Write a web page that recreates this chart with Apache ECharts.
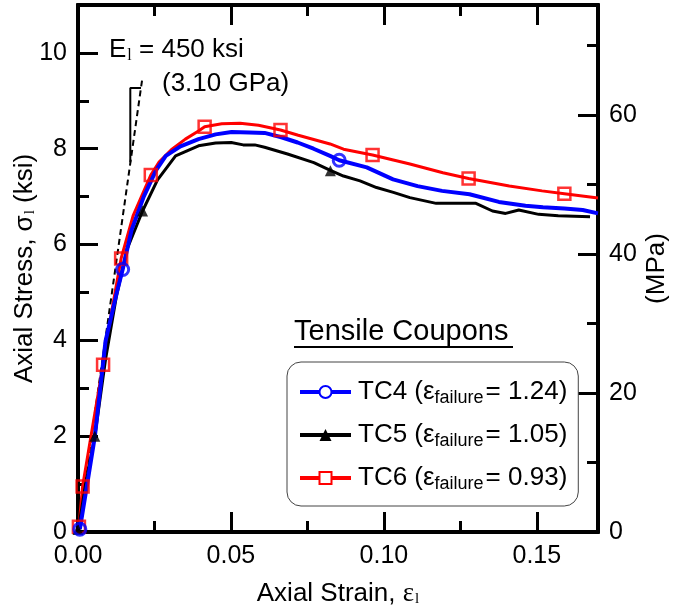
<!DOCTYPE html>
<html>
<head>
<meta charset="utf-8">
<script src="https://cdn.jsdelivr.net/npm/echarts@6/dist/echarts.min.js"></script>
<style>
html,body{margin:0;padding:0;background:#fff;}
#chart{width:678px;height:613px;}
</style>
</head>
<body>
<div id="chart"></div>
<script>
// ---- data (strain, stress ksi) ----
const tc4Curve = [[0.0006,0.06],[0.0030,1.0],[0.0055,1.99],[0.009,3.98],[0.0125,4.95],[0.0146,5.48],[0.0175,6.3],[0.0215,7.0],[0.0255,7.55],[0.0287,7.85],[0.0335,8.05],[0.0394,8.2],[0.045,8.3],[0.0502,8.35],[0.056,8.34],[0.061,8.33],[0.0665,8.24],[0.0718,8.13],[0.077,8.0],[0.0824,7.85],[0.0854,7.76],[0.0944,7.61],[0.103,7.36],[0.111,7.22],[0.119,7.12],[0.128,7.05],[0.1376,6.89],[0.1463,6.81],[0.152,6.78],[0.159,6.75],[0.165,6.72],[0.17,6.65]];
const tc4Markers = [[0.0006,0.06],[0.0146,5.48],[0.0854,7.76]];

const tc5Curve = [[0,0],[0.0025,1.0],[0.0055,2.0],[0.009,3.6],[0.0125,4.9],[0.016,5.9],[0.0211,6.7],[0.026,7.35],[0.0319,7.85],[0.0394,8.06],[0.045,8.12],[0.0501,8.13],[0.054,8.08],[0.0578,8.08],[0.061,8.03],[0.0685,7.89],[0.0771,7.71],[0.0825,7.55],[0.0868,7.43],[0.0922,7.33],[0.0976,7.19],[0.1031,7.09],[0.1085,6.98],[0.1171,6.86],[0.1301,6.86],[0.1355,6.70],[0.1398,6.65],[0.1441,6.72],[0.1506,6.63],[0.157,6.6],[0.1674,6.58]];
const tc5Markers = [[0.0,0.05],[0.0055,2.0],[0.0211,6.7],[0.0825,7.54]];

const tc6Curve = [[0,0],[0.0003,0.11],[0.0015,0.95],[0.0045,2.1],[0.0082,3.49],[0.011,4.6],[0.0141,5.71],[0.018,6.6],[0.0238,7.45],[0.0265,7.72],[0.0305,7.98],[0.0351,8.2],[0.0394,8.37],[0.0414,8.46],[0.047,8.52],[0.053,8.53],[0.059,8.49],[0.0662,8.39],[0.072,8.28],[0.0824,8.1],[0.0868,7.99],[0.0963,7.87],[0.1085,7.68],[0.1193,7.5],[0.1277,7.38],[0.141,7.22],[0.1517,7.12],[0.159,7.06],[0.17,6.97]];
const tc6Markers = [[0.0003,0.11],[0.0015,0.95],[0.0082,3.49],[0.0141,5.71],[0.0238,7.45],[0.0414,8.46],[0.0662,8.39],[0.0963,7.87],[0.1277,7.38],[0.159,7.06]];

const modulusLine = [[0,0],[0.0211,9.5]];
const slopeTriangle = [[0.0171,7.72],[0.0171,9.27],[0.0206,9.27]];

const seriesNames = ['TC4','TC5','TC6'];
const failureStrains = ['1.24','1.05','0.93'];
const xTicks = {min:0, max:0.17, major:0.05, minor:0.025};
const yTicksKsi = {min:0, max:11, major:2, minor:1};
const KSI_TO_MPA = 6.894757;
const yTicksMpa = {min:0, major:20, minor:10};

// ---- chart ----
const FONT = '"Liberation Sans", Arial, sans-serif';
const SERIF = '"Liberation Serif", "Times New Roman", serif';
const chart = echarts.init(document.getElementById('chart'), null, {renderer:'canvas'});

function xAxisDef(pos, interval, tickLen, showLabel, extra){
  return Object.assign({
    type:'value', position:pos, min:xTicks.min, max:xTicks.max, interval:interval,
    axisLine:{show:true, onZero:false, lineStyle:{color:'#000', width:4}},
    axisTick:{show:true, inside:true, length:tickLen, lineStyle:{color:'#000', width:3}},
    axisLabel:{show:showLabel, showMaxLabel:false, color:'#000', fontSize:25, fontFamily:FONT, margin:12,
      formatter:v=>v.toFixed(2)},
    splitLine:{show:false}
  }, extra||{});
}
function yAxisDef(pos, min, max, interval, tickLen, showLabel, extra){
  return Object.assign({
    type:'value', position:pos, min:min, max:max, interval:interval,
    axisLine:{show:true, onZero:false, lineStyle:{color:'#000', width:4}},
    axisTick:{show:true, inside:true, length:tickLen, lineStyle:{color:'#000', width:3}},
    axisLabel:{show:showLabel, showMaxLabel:false, color:'#000', fontSize:25, fontFamily:FONT, margin:11,
      formatter:v=>String(Math.round(v))},
    splitLine:{show:false}
  }, extra||{});
}

const mpaMax = yTicksKsi.max * KSI_TO_MPA;

const option = {
  animation:false,
  backgroundColor:'#fff',
  grid:{left:78, right:75, top:5, bottom:81, containLabel:false},
  xAxis:[
    xAxisDef('bottom', xTicks.major, 20, true, {
      name:'{n|Axial Strain, }{g|ε}{s|l}', nameLocation:'middle', nameGap:48, nameMoveOverlap:false,
      nameTextStyle:{rich:{
        n:{fontSize:26, fontFamily:FONT, color:'#000'},
        g:{fontSize:27, fontFamily:SERIF, color:'#000'},
        s:{fontSize:15, fontFamily:SERIF, color:'#000', verticalAlign:'bottom', padding:[12,0,0,1]}
      }}
    }),
    xAxisDef('bottom', xTicks.minor, 11, false),
    xAxisDef('top', xTicks.major, 20, false),
    xAxisDef('top', xTicks.minor, 11, false)
  ],
  yAxis:[
    yAxisDef('left', yTicksKsi.min, yTicksKsi.max, yTicksKsi.major, 20, true, {
      name:'{n|Axial Stress, σ}{s|l}{n| (ksi)}', nameLocation:'middle', nameGap:40, nameRotate:90, nameMoveOverlap:false,
      nameTextStyle:{rich:{
        n:{fontSize:26, fontFamily:FONT, color:'#000'},
        s:{fontSize:15, fontFamily:SERIF, color:'#000', verticalAlign:'bottom', padding:[12,0,0,1]}
      }}
    }),
    yAxisDef('left', yTicksKsi.min, yTicksKsi.max, yTicksKsi.minor, 11, false),
    yAxisDef('right', yTicksMpa.min, mpaMax, yTicksMpa.major, 20, true, {
      name:'(MPa)', nameLocation:'middle', nameGap:46, nameRotate:90, nameMoveOverlap:false,
      nameTextStyle:{fontSize:26, fontFamily:FONT, color:'#000'}
    }),
    yAxisDef('right', yTicksMpa.min, mpaMax, yTicksMpa.minor, 11, false)
  ],
  legend:{
    data:seriesNames,
    orient:'vertical',
    left:287, top:362,
    padding:[13,11,13,11],
    itemGap:11,
    itemWidth:51, itemHeight:15,
    borderColor:'#444', borderWidth:1, borderRadius:14,
    backgroundColor:'#fff',
    selectedMode:false,
    lineStyle:{width:4},
    formatter:function(name){
      const i = seriesNames.indexOf(name);
      return '{a|' + name + ' (ε}{s|failure}{a|= ' + failureStrains[i] + ')}';
    },
    textStyle:{rich:{
      a:{fontSize:26, fontFamily:FONT, color:'#000', lineHeight:30, padding:[0,0,0,2]},
      s:{fontSize:18, fontFamily:FONT, color:'#000', verticalAlign:'bottom', lineHeight:18, padding:[14,0,0,0]}
    }}
  },
  graphic:[
    {type:'text', left:294, top:317, style:{text:'Tensile Coupons', fontSize:29, fontFamily:FONT, fill:'#000'}},
    {type:'line', shape:{x1:294, y1:347, x2:513, y2:347}, style:{stroke:'#000', lineWidth:2}},
    {type:'text', left:109, top:37, style:{
      text:'{n|E}{s|l}{n| = 450 ksi}',
      rich:{
        n:{fontSize:26, fontFamily:FONT, fill:'#000'},
        s:{fontSize:16, fontFamily:SERIF, fill:'#000', verticalAlign:'bottom', padding:[12,0,0,1]}
      }}},
    {type:'text', left:162, top:71, style:{text:'(3.10 GPa)', fontSize:26, fontFamily:FONT, fill:'#000'}}
  ],
  series:[
    {name:'modulus', type:'line', data:modulusLine, symbol:'none', silent:true,
      lineStyle:{color:'#000', width:2, type:[6,4]}, z:1},
    {name:'slope', type:'line', data:slopeTriangle, symbol:'none', silent:true,
      lineStyle:{color:'#000', width:2}, z:1},
    {name:'TC6', type:'line', data:tc6Curve, symbol:'emptyRect', symbolSize:12, showSymbol:false,
      lineStyle:{color:'#ff0000', width:3}, itemStyle:{color:'#ff0000', borderWidth:2}, z:2},
    {name:'TC5', type:'line', data:tc5Curve, symbol:'triangle', symbolSize:11, showSymbol:false,
      lineStyle:{color:'#000', width:3}, itemStyle:{color:'#000'}, z:2},
    {name:'TC4', type:'line', data:tc4Curve, symbol:'emptyCircle', symbolSize:12, showSymbol:false,
      lineStyle:{color:'#0000ff', width:4}, itemStyle:{color:'#0000ff', borderWidth:2}, z:2},
    {name:'TC6', type:'scatter', data:tc6Markers, symbol:'rect', symbolSize:12, clip:false,
      itemStyle:{color:'rgba(255,255,255,0)', borderColor:'#ff0000', borderWidth:2.5}, z:3},
    {name:'TC5', type:'scatter', data:tc5Markers, symbol:'triangle', symbolSize:11, clip:false,
      itemStyle:{color:'#000'}, z:3},
    {name:'TC4', type:'scatter', data:tc4Markers, symbol:'circle', symbolSize:12, clip:false,
      itemStyle:{color:'rgba(255,255,255,0)', borderColor:'#0000ff', borderWidth:3}, z:3}
  ]
};
chart.setOption(option);
</script>
</body>
</html>
